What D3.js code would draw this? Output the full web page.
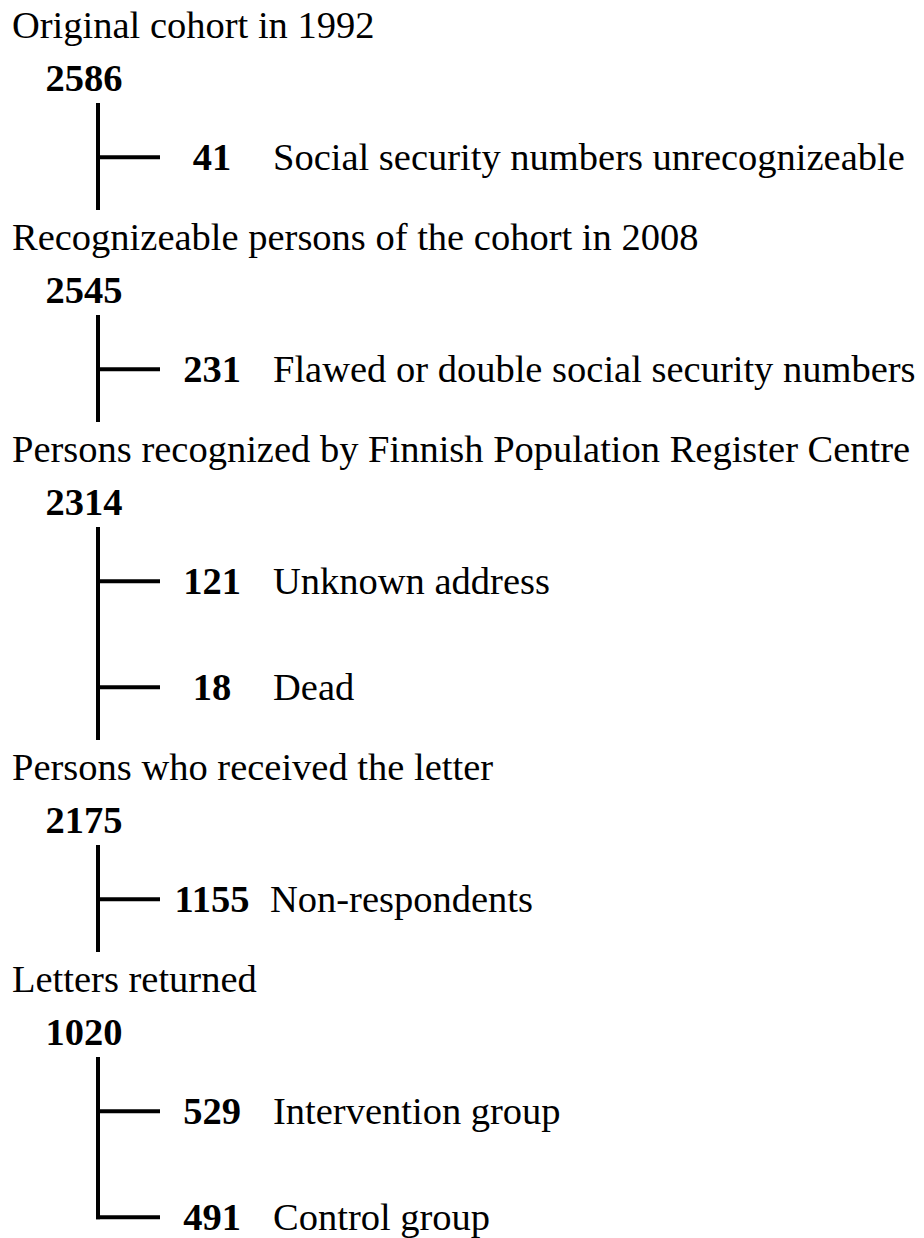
<!DOCTYPE html>
<html>
<head>
<meta charset="utf-8">
<script src="https://cdn.jsdelivr.net/npm/d3@7"></script>
<style>
  body { margin: 0; background: #fff; }
  text { font-family: "Liberation Serif", "Times New Roman", serif; fill: #000; }
</style>
</head>
<body>
<div id="chart"></div>
<script>
var svgWidth = 924;
var svgHeight = 1238;

// stages of the cohort flow
var stageTitles = [
    "Original cohort in 1992",
    "Recognizeable persons of the cohort in 2008",
    "Persons recognized by Finnish Population Register Centre",
    "Persons who received the letter",
    "Letters returned"
];
var stageCounts = [2586, 2545, 2314, 2175, 1020];
var stageRows = [0, 4, 8, 14, 18];

// branches off each stage (stage index, count, label)
var branchStage = [0, 1, 2, 2, 3, 4, 4];
var branchCounts = [41, 231, 121, 18, 1155, 529, 491];
var branchLabels = [
    "Social security numbers unrecognizeable",
    "Flawed or double social security numbers",
    "Unknown address",
    "Dead",
    "Non-respondents",
    "Intervention group",
    "Control group"
];
var branchRows = [2.25, 2.25, 2.25, 4.25, 2.25, 2.25, 4.25];

var fontSize = 38.5;
var stemX = 98, branchEnd = 160, countX = 84, branchCountX = 212, labelX = 273, titleX = 12;

var y = d3.scaleLinear().domain([0, 18]).range([38, 992]);

var svg = d3.select("#chart")
    .append("svg")
    .attr("width", svgWidth)
    .attr("height", svgHeight);

var stages = stageTitles.map(function(t, i) {
    return { title: t, count: stageCounts[i], row: stageRows[i], index: i };
});
var branches = branchLabels.map(function(l, i) {
    return { label: l, count: branchCounts[i], stage: branchStage[i], row: stageRows[branchStage[i]] + branchRows[i] };
});

// vertical stems
stages.forEach(function(s, i) {
    var top = y(s.row + 1) + 12;
    var bottom;
    if (i < stages.length - 1) {
        bottom = y(stages[i + 1].row) - 40;
    } else {
        var last = branches.filter(function(b) { return b.stage === i; });
        bottom = y(last[last.length - 1].row) + 2;
    }
    svg.append("line")
        .attr("x1", stemX).attr("x2", stemX)
        .attr("y1", top).attr("y2", bottom)
        .attr("stroke", "#000")
        .attr("stroke-width", 4);
});

// stage titles and counts
svg.selectAll("text.title")
    .data(stages)
    .enter().append("text")
    .attr("class", "title")
    .attr("x", titleX)
    .attr("y", function(d) { return y(d.row); })
    .style("font-size", fontSize + "px")
    .text(function(d) { return d.title; });

svg.selectAll("text.count")
    .data(stages)
    .enter().append("text")
    .attr("class", "count")
    .attr("x", countX)
    .attr("y", function(d) { return y(d.row + 1); })
    .attr("text-anchor", "middle")
    .style("font-size", fontSize + "px")
    .style("font-weight", "bold")
    .text(function(d) { return d.count; });

// branches
var br = svg.selectAll("g.branch")
    .data(branches)
    .enter().append("g")
    .attr("class", "branch");

br.append("line")
    .attr("x1", stemX - 2)
    .attr("x2", branchEnd)
    .attr("y1", function(d) { return y(d.row); })
    .attr("y2", function(d) { return y(d.row); })
    .attr("stroke", "#000")
    .attr("stroke-width", 4);

br.append("text")
    .attr("x", branchCountX)
    .attr("y", function(d) { return y(d.row) + 13; })
    .attr("text-anchor", "middle")
    .style("font-size", fontSize + "px")
    .style("font-weight", "bold")
    .text(function(d) { return d.count; });

br.append("text")
    .attr("x", function(d) { return d.count >= 1000 ? labelX - 3 : labelX; })
    .attr("y", function(d) { return y(d.row) + 13; })
    .style("font-size", fontSize + "px")
    .text(function(d) { return d.label; });
</script>
</body>
</html>
